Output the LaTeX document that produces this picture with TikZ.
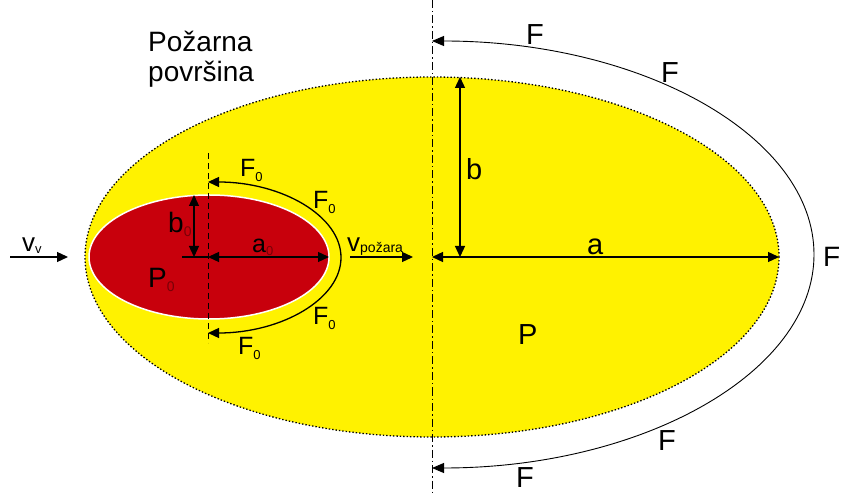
\documentclass[tikz,border=0pt]{standalone}
\usepackage{fontspec}
\setmainfont{Liberation Sans}
\usetikzlibrary{arrows.meta}
\definecolor{fireyellow}{RGB}{255,242,0}
\definecolor{firered}{RGB}{200,0,12}
\newcommand{\mysub}[3]{{\fontsize{#1}{#1}\selectfont\raisebox{-#2pt}{#3}}}
\begin{document}
\begin{tikzpicture}[x=1pt,y=1pt,
  big/.style={font=\fontsize{29}{32}\selectfont, inner sep=0pt, anchor=base west},
  mid/.style={font=\fontsize{28}{30}\selectfont, inner sep=0pt, anchor=base west},
  small/.style={font=\fontsize{25}{28}\selectfont, inner sep=0pt, anchor=base west},
  arr/.style={line width=1.3pt, -{Triangle[length=11pt,width=10pt]}},
  dimarr/.style={line width=1.3pt, {Triangle[length=11pt,width=10pt]}-{Triangle[length=11pt,width=10pt]}},
  farr/.style={line width=0.9pt, {Triangle[length=12pt,width=10pt]}-{Triangle[length=12pt,width=10pt]}},
  f0arr/.style={line width=1.3pt, {Triangle[length=11pt,width=10pt]}-{Triangle[length=11pt,width=10pt]}},
  dotline/.style={line width=1.3pt, dash pattern=on 1.4pt off 2pt},
  dashdotline/.style={line width=0.9pt, dash pattern=on 8pt off 3pt on 1.5pt off 3pt},
  dashline/.style={line width=1pt, dash pattern=on 6pt off 4pt}]
\useasboundingbox (0,0) rectangle (842,495);
\fill[white] (0,0) rectangle (842,495);

% coordinates
\coordinate (C) at (432,238);
\coordinate (C0) at (209,238);
\coordinate (axTop) at (432,495);
\coordinate (axBot) at (432,0);
\coordinate (ax0Top) at (208,342);
\coordinate (ax0Bot) at (208,152);

% large fire area
\fill[fireyellow] (C) ellipse [x radius=347, y radius=180];
\draw[dotline] (C) ellipse [x radius=347, y radius=180];

% initial fire area
\filldraw[fill=firered, draw=white, line width=1.5pt] (C0) ellipse [x radius=120, y radius=62];

% axes
\draw[dashdotline] (axTop) -- (axBot);
\draw[dashline] (ax0Top) -- (ax0Bot);

% outer F front
\coordinate (FTop) at (432,454);
\draw[farr] (FTop) arc [start angle=90, end angle=-90, x radius=382, y radius=213.5];

% F0 front
\coordinate (F0Top) at (208,313);
\draw[f0arr] (F0Top) arc [start angle=90, end angle=-90, x radius=133, y radius=75.5];

% a and b
\coordinate (bTop) at (460,418);
\coordinate (bBot) at (460,238);
\coordinate (aL) at (432,238);
\coordinate (aR) at (779,238);
\draw[dimarr] (bTop) -- (bBot);
\draw[dimarr] (aL) -- (aR);

% a0 and b0
\coordinate (b0Top) at (194,300);
\coordinate (b0Bot) at (194,238);
\coordinate (a0Base) at (182,238);
\coordinate (a0L) at (208,238);
\coordinate (a0R) at (329,238);
\draw[dimarr] (b0Top) -- (b0Bot);
\draw[line width=1.3pt] (a0Base) -- (a0L);
\draw[dimarr] (a0L) -- (a0R);

% wind and fire velocity
\coordinate (vvA) at (10,238);
\coordinate (vvB) at (68,238);
\coordinate (vpA) at (350,238);
\coordinate (vpB) at (413,238);
\draw[arr] (vvA) -- (vvB);
\draw[arr] (vpA) -- (vpB);

% labels
\node[mid] (t1) at (148,443) {Požarna};
\node[mid] (t2) at (148,413) {površina};

\node[big] (Fa) at (526,450) {F};
\node[big] (Fb) at (661,412) {F};
\node[big, font=\fontsize{28}{30}\selectfont] (Fc) at (823,228) {F};
\node[big] (Fd) at (658,45) {F};
\node[big] (Fe) at (516,8) {F};

\node[big] (lb) at (466,315) {b};
\node[big] (la) at (587,240) {a};
\node[big] (lP) at (518,150) {P};

\node[small] (F0a) at (240,318) {F\mysub{13}{5}{0}};
\node[small] (F0b) at (313,286) {F\mysub{13}{5}{0}};
\node[small] (F0c) at (313,170) {F\mysub{13}{5}{0}};
\node[small] (F0d) at (238,140) {F\mysub{13}{5}{0}};

\node[big, font=\fontsize{28}{30}\selectfont] (lb0) at (168,262) {b\mysub{14}{4}{\color{firered!60!black}0}};
\node[big, font=\fontsize{28}{30}\selectfont] (lP0) at (148,207) {P\mysub{14}{4}{\color{firered!60!black}0}};
\node[small] (la0) at (252,242) {a\mysub{13}{3}{\color{firered!60!black}0}};

\node[mid, font=\fontsize{26}{28}\selectfont] (lvv) at (22,243) {v\mysub{13}{2}{v}};
\node[mid, font=\fontsize{26}{28}\selectfont] (lvp) at (347,243) {v{\fontsize{14}{14}\selectfont\raisebox{-1pt}{požara}}};
\end{tikzpicture}
\end{document}
